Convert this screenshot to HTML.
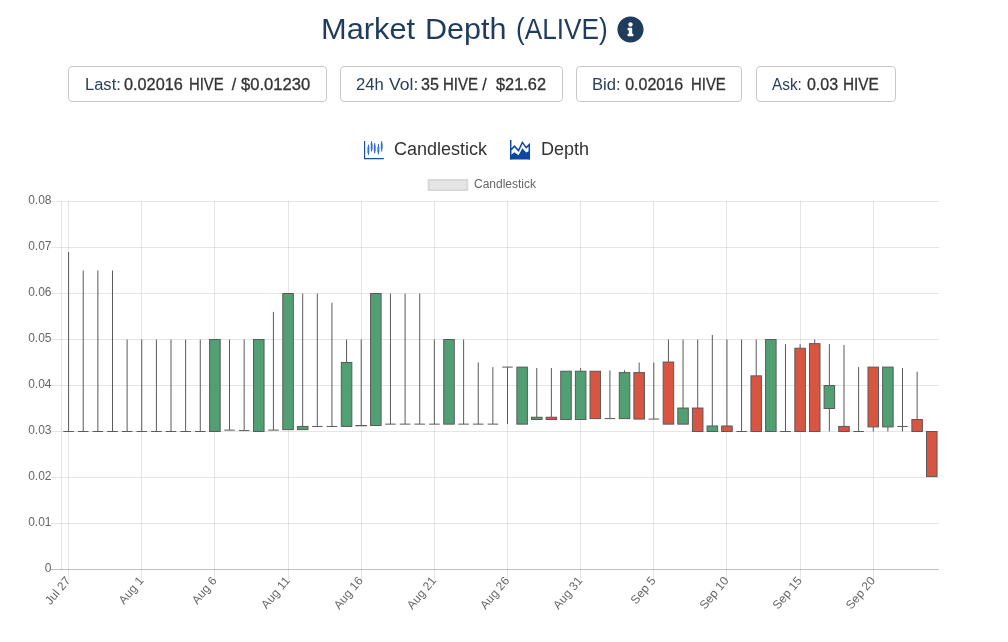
<!DOCTYPE html>
<html><head><meta charset="utf-8"><title>Market Depth</title>
<style>
html,body{margin:0;padding:0;background:#fff;}
body{width:1008px;height:642px;overflow:hidden;position:relative;font-family:"Liberation Sans",sans-serif;}
.chart{position:absolute;left:0;top:0;will-change:transform;}
.title{position:absolute;top:12px;font-size:30px;color:#1f3d5b;white-space:nowrap;line-height:34px;transform-origin:0 0;}
.info{position:absolute;left:616.8px;top:16.2px;width:27px;height:27px;}
.box{position:absolute;top:66px;height:34px;border:1px solid #c8c8c8;border-radius:4px;box-sizing:content-box;font-size:16px;line-height:34px;white-space:nowrap;color:#333;}
.w{position:absolute;top:68px;transform-origin:0 0;font-size:16px;line-height:34px;white-space:nowrap;}
.lbl{color:#293f58;}
.val{color:#333;-webkit-text-stroke:0.3px #333;}
.tab{position:absolute;top:137px;font-size:18px;color:#333;white-space:nowrap;line-height:24px;}
</style></head>
<body>
<svg class="chart" width="1008" height="642" viewBox="0 0 1008 642"><g stroke="rgba(0,0,0,0.1)" stroke-width="1" fill="none"><line x1="51" x2="939" y1="523.5" y2="523.5"/><line x1="51" x2="939" y1="477.5" y2="477.5"/><line x1="51" x2="939" y1="431.5" y2="431.5"/><line x1="51" x2="939" y1="385.5" y2="385.5"/><line x1="51" x2="939" y1="339.5" y2="339.5"/><line x1="51" x2="939" y1="293.5" y2="293.5"/><line x1="51" x2="939" y1="247.5" y2="247.5"/><line x1="51" x2="939" y1="201.5" y2="201.5"/><line x1="61.5" x2="61.5" y1="201" y2="570"/><line x1="68.5" x2="68.5" y1="201" y2="580"/><line x1="141.5" x2="141.5" y1="201" y2="580"/><line x1="214.5" x2="214.5" y1="201" y2="580"/><line x1="288.5" x2="288.5" y1="201" y2="580"/><line x1="361.5" x2="361.5" y1="201" y2="580"/><line x1="434.5" x2="434.5" y1="201" y2="580"/><line x1="507.5" x2="507.5" y1="201" y2="580"/><line x1="580.5" x2="580.5" y1="201" y2="580"/><line x1="653.5" x2="653.5" y1="201" y2="580"/><line x1="726.5" x2="726.5" y1="201" y2="580"/><line x1="800.5" x2="800.5" y1="201" y2="580"/><line x1="873.5" x2="873.5" y1="201" y2="580"/></g><line x1="51" x2="939" y1="569.5" y2="569.5" stroke="rgba(0,0,0,0.25)" stroke-width="1"/><g font-family="Liberation Sans, sans-serif" font-size="12" fill="#666"><text x="51.5" y="568.5" text-anchor="end" dominant-baseline="middle">0</text><text x="51.5" y="522.5" text-anchor="end" dominant-baseline="middle">0.01</text><text x="51.5" y="476.5" text-anchor="end" dominant-baseline="middle">0.02</text><text x="51.5" y="430.5" text-anchor="end" dominant-baseline="middle">0.03</text><text x="51.5" y="384.5" text-anchor="end" dominant-baseline="middle">0.04</text><text x="51.5" y="338.5" text-anchor="end" dominant-baseline="middle">0.05</text><text x="51.5" y="292.5" text-anchor="end" dominant-baseline="middle">0.06</text><text x="51.5" y="246.5" text-anchor="end" dominant-baseline="middle">0.07</text><text x="51.5" y="200.5" text-anchor="end" dominant-baseline="middle">0.08</text></g><g font-family="Liberation Sans, sans-serif" font-size="12" fill="#666"><text transform="translate(68.60,578.9) rotate(-50)" text-anchor="end" dominant-baseline="middle">Jul 27</text><text transform="translate(141.75,578.9) rotate(-50)" text-anchor="end" dominant-baseline="middle">Aug 1</text><text transform="translate(214.90,578.9) rotate(-50)" text-anchor="end" dominant-baseline="middle">Aug 6</text><text transform="translate(288.05,578.9) rotate(-50)" text-anchor="end" dominant-baseline="middle">Aug 11</text><text transform="translate(361.20,578.9) rotate(-50)" text-anchor="end" dominant-baseline="middle">Aug 16</text><text transform="translate(434.35,578.9) rotate(-50)" text-anchor="end" dominant-baseline="middle">Aug 21</text><text transform="translate(507.50,578.9) rotate(-50)" text-anchor="end" dominant-baseline="middle">Aug 26</text><text transform="translate(580.65,578.9) rotate(-50)" text-anchor="end" dominant-baseline="middle">Aug 31</text><text transform="translate(653.80,578.9) rotate(-50)" text-anchor="end" dominant-baseline="middle">Sep 5</text><text transform="translate(726.95,578.9) rotate(-50)" text-anchor="end" dominant-baseline="middle">Sep 10</text><text transform="translate(800.10,578.9) rotate(-50)" text-anchor="end" dominant-baseline="middle">Sep 15</text><text transform="translate(873.25,578.9) rotate(-50)" text-anchor="end" dominant-baseline="middle">Sep 20</text></g><g stroke-width="1"><path d="M68.60 252.10V431.50" stroke="rgb(90,90,90)" fill="none"/><path d="M63.33 431.50H73.86" stroke="rgb(90,90,90)" fill="none"/><path d="M83.23 270.50V431.50" stroke="rgb(90,90,90)" fill="none"/><path d="M77.96 431.50H88.49" stroke="rgb(90,90,90)" fill="none"/><path d="M97.86 270.50V431.50" stroke="rgb(90,90,90)" fill="none"/><path d="M92.59 431.50H103.12" stroke="rgb(90,90,90)" fill="none"/><path d="M112.49 270.50V431.50" stroke="rgb(90,90,90)" fill="none"/><path d="M107.22 431.50H117.75" stroke="rgb(90,90,90)" fill="none"/><path d="M127.12 339.50V431.50" stroke="rgb(90,90,90)" fill="none"/><path d="M121.86 431.50H132.38" stroke="rgb(90,90,90)" fill="none"/><path d="M141.75 339.50V431.50" stroke="rgb(90,90,90)" fill="none"/><path d="M136.49 431.50H147.01" stroke="rgb(90,90,90)" fill="none"/><path d="M156.38 339.50V431.50" stroke="rgb(90,90,90)" fill="none"/><path d="M151.12 431.50H161.64" stroke="rgb(90,90,90)" fill="none"/><path d="M171.01 339.50V431.50" stroke="rgb(90,90,90)" fill="none"/><path d="M165.75 431.50H176.27" stroke="rgb(90,90,90)" fill="none"/><path d="M185.64 339.50V431.50" stroke="rgb(90,90,90)" fill="none"/><path d="M180.38 431.50H190.90" stroke="rgb(90,90,90)" fill="none"/><path d="M200.27 339.50V431.50" stroke="rgb(90,90,90)" fill="none"/><path d="M195.01 431.50H205.53" stroke="rgb(90,90,90)" fill="none"/><rect x="209.64" y="339.50" width="10.53" height="92.00" fill="rgb(80,160,115)" stroke="rgb(90,90,90)"/><path d="M229.53 339.50V430.12" stroke="rgb(90,90,90)" fill="none"/><path d="M224.27 430.12H234.79" stroke="rgb(90,90,90)" fill="none"/><path d="M244.16 339.50V430.58" stroke="rgb(90,90,90)" fill="none"/><path d="M238.90 430.58H249.42" stroke="rgb(90,90,90)" fill="none"/><rect x="253.52" y="339.50" width="10.53" height="92.00" fill="rgb(80,160,115)" stroke="rgb(90,90,90)"/><path d="M273.42 311.90V430.12" stroke="rgb(90,90,90)" fill="none"/><path d="M268.16 430.12H278.69" stroke="rgb(90,90,90)" fill="none"/><rect x="282.79" y="293.50" width="10.53" height="136.16" fill="rgb(80,160,115)" stroke="rgb(90,90,90)"/><path d="M302.68 293.50V426.44" stroke="rgb(90,90,90)" fill="none"/><rect x="297.42" y="426.44" width="10.53" height="3.22" fill="rgb(80,160,115)" stroke="rgb(90,90,90)"/><path d="M317.31 293.50V426.44" stroke="rgb(90,90,90)" fill="none"/><path d="M312.05 426.44H322.57" stroke="rgb(90,90,90)" fill="none"/><path d="M331.94 302.70V426.44" stroke="rgb(90,90,90)" fill="none"/><path d="M326.68 426.44H337.21" stroke="rgb(90,90,90)" fill="none"/><path d="M346.57 339.50V362.50" stroke="rgb(90,90,90)" fill="none"/><rect x="341.31" y="362.50" width="10.53" height="63.94" fill="rgb(80,160,115)" stroke="rgb(90,90,90)"/><path d="M361.20 339.50V425.52" stroke="rgb(90,90,90)" fill="none"/><rect x="355.94" y="425.52" width="10.53" height="0.23" fill="rgb(80,160,115)" stroke="rgb(90,90,90)"/><rect x="370.57" y="293.50" width="10.53" height="132.02" fill="rgb(80,160,115)" stroke="rgb(90,90,90)"/><path d="M390.46 293.50V424.14" stroke="rgb(90,90,90)" fill="none"/><path d="M385.20 424.14H395.73" stroke="rgb(90,90,90)" fill="none"/><path d="M405.09 293.50V424.14" stroke="rgb(90,90,90)" fill="none"/><path d="M399.83 424.14H410.36" stroke="rgb(90,90,90)" fill="none"/><path d="M419.72 293.50V424.14" stroke="rgb(90,90,90)" fill="none"/><path d="M414.46 424.14H424.99" stroke="rgb(90,90,90)" fill="none"/><path d="M434.35 339.50V424.14" stroke="rgb(90,90,90)" fill="none"/><path d="M429.09 424.14H439.62" stroke="rgb(90,90,90)" fill="none"/><rect x="443.72" y="339.50" width="10.53" height="84.64" fill="rgb(80,160,115)" stroke="rgb(90,90,90)"/><path d="M463.61 339.50V424.14" stroke="rgb(90,90,90)" fill="none"/><path d="M458.35 424.14H468.88" stroke="rgb(90,90,90)" fill="none"/><path d="M478.24 362.50V424.14" stroke="rgb(90,90,90)" fill="none"/><path d="M472.98 424.14H483.50" stroke="rgb(90,90,90)" fill="none"/><path d="M492.87 367.10V424.14" stroke="rgb(90,90,90)" fill="none"/><path d="M487.61 424.14H498.13" stroke="rgb(90,90,90)" fill="none"/><path d="M507.50 424.14V367.10" stroke="rgb(90,90,90)" fill="none"/><path d="M502.24 367.10H512.76" stroke="rgb(90,90,90)" fill="none"/><rect x="516.87" y="367.10" width="10.53" height="57.04" fill="rgb(80,160,115)" stroke="rgb(90,90,90)"/><path d="M536.76 368.02V417.24" stroke="rgb(90,90,90)" fill="none"/><rect x="531.50" y="417.24" width="10.53" height="2.30" fill="rgb(80,160,115)" stroke="rgb(90,90,90)"/><path d="M551.39 368.02V417.24" stroke="rgb(90,90,90)" fill="none"/><rect x="546.12" y="417.24" width="10.53" height="2.30" fill="rgb(215,85,65)" stroke="rgb(90,90,90)"/><rect x="560.75" y="371.24" width="10.53" height="48.30" fill="rgb(80,160,115)" stroke="rgb(90,90,90)"/><path d="M580.65 368.02V371.24" stroke="rgb(90,90,90)" fill="none"/><rect x="575.39" y="371.24" width="10.53" height="48.30" fill="rgb(80,160,115)" stroke="rgb(90,90,90)"/><rect x="590.02" y="371.24" width="10.53" height="47.38" fill="rgb(215,85,65)" stroke="rgb(90,90,90)"/><path d="M609.91 370.32V418.62" stroke="rgb(90,90,90)" fill="none"/><path d="M604.65 418.62H615.18" stroke="rgb(90,90,90)" fill="none"/><path d="M624.54 370.32V372.62" stroke="rgb(90,90,90)" fill="none"/><rect x="619.28" y="372.62" width="10.53" height="46.00" fill="rgb(80,160,115)" stroke="rgb(90,90,90)"/><path d="M639.17 362.50V372.62" stroke="rgb(90,90,90)" fill="none"/><rect x="633.91" y="372.62" width="10.53" height="46.46" fill="rgb(215,85,65)" stroke="rgb(90,90,90)"/><path d="M653.80 362.50V419.08" stroke="rgb(90,90,90)" fill="none"/><path d="M648.54 419.08H659.07" stroke="rgb(90,90,90)" fill="none"/><path d="M668.43 339.50V362.04" stroke="rgb(90,90,90)" fill="none"/><rect x="663.17" y="362.04" width="10.53" height="62.10" fill="rgb(215,85,65)" stroke="rgb(90,90,90)"/><path d="M683.06 339.50V408.04" stroke="rgb(90,90,90)" fill="none"/><rect x="677.80" y="408.04" width="10.53" height="16.10" fill="rgb(80,160,115)" stroke="rgb(90,90,90)"/><path d="M697.69 339.50V408.04" stroke="rgb(90,90,90)" fill="none"/><rect x="692.43" y="408.04" width="10.53" height="23.46" fill="rgb(215,85,65)" stroke="rgb(90,90,90)"/><path d="M712.32 334.90V425.98" stroke="rgb(90,90,90)" fill="none"/><rect x="707.06" y="425.98" width="10.53" height="5.52" fill="rgb(80,160,115)" stroke="rgb(90,90,90)"/><path d="M726.95 339.50V425.98" stroke="rgb(90,90,90)" fill="none"/><rect x="721.69" y="425.98" width="10.53" height="5.52" fill="rgb(215,85,65)" stroke="rgb(90,90,90)"/><path d="M741.58 339.50V431.50" stroke="rgb(90,90,90)" fill="none"/><path d="M736.32 431.50H746.85" stroke="rgb(90,90,90)" fill="none"/><path d="M756.21 339.50V375.84" stroke="rgb(90,90,90)" fill="none"/><rect x="750.95" y="375.84" width="10.53" height="55.66" fill="rgb(215,85,65)" stroke="rgb(90,90,90)"/><rect x="765.58" y="339.50" width="10.53" height="92.00" fill="rgb(80,160,115)" stroke="rgb(90,90,90)"/><path d="M785.47 344.10V431.50" stroke="rgb(90,90,90)" fill="none"/><path d="M780.21 431.50H790.74" stroke="rgb(90,90,90)" fill="none"/><path d="M800.10 344.10V348.24" stroke="rgb(90,90,90)" fill="none"/><rect x="794.84" y="348.24" width="10.53" height="83.26" fill="rgb(215,85,65)" stroke="rgb(90,90,90)"/><path d="M814.73 339.50V343.64" stroke="rgb(90,90,90)" fill="none"/><rect x="809.47" y="343.64" width="10.53" height="87.86" fill="rgb(215,85,65)" stroke="rgb(90,90,90)"/><path d="M829.36 344.10V385.50M829.36 431.50V408.50" stroke="rgb(90,90,90)" fill="none"/><rect x="824.10" y="385.50" width="10.53" height="23.00" fill="rgb(80,160,115)" stroke="rgb(90,90,90)"/><path d="M843.99 345.02V426.44" stroke="rgb(90,90,90)" fill="none"/><rect x="838.73" y="426.44" width="10.53" height="5.06" fill="rgb(215,85,65)" stroke="rgb(90,90,90)"/><path d="M858.62 367.10V431.50" stroke="rgb(90,90,90)" fill="none"/><path d="M853.36 431.50H863.89" stroke="rgb(90,90,90)" fill="none"/><path d="M873.25 431.50V426.90" stroke="rgb(90,90,90)" fill="none"/><rect x="867.99" y="367.10" width="10.53" height="59.80" fill="rgb(215,85,65)" stroke="rgb(90,90,90)"/><path d="M887.88 431.50V426.90" stroke="rgb(90,90,90)" fill="none"/><rect x="882.62" y="367.10" width="10.53" height="59.80" fill="rgb(80,160,115)" stroke="rgb(90,90,90)"/><path d="M902.51 368.02V426.44M902.51 431.50V426.44" stroke="rgb(90,90,90)" fill="none"/><path d="M897.25 426.44H907.78" stroke="rgb(90,90,90)" fill="none"/><path d="M917.14 371.70V419.54" stroke="rgb(90,90,90)" fill="none"/><rect x="911.88" y="419.54" width="10.53" height="11.96" fill="rgb(215,85,65)" stroke="rgb(90,90,90)"/><path d="M931.77 431.04V431.50" stroke="rgb(90,90,90)" fill="none"/><rect x="926.51" y="431.50" width="10.53" height="45.08" fill="rgb(215,85,65)" stroke="rgb(90,90,90)"/></g><rect x="427.6" y="179" width="40.6" height="12" fill="rgba(0,0,0,0.1)"/><rect x="428.6" y="180" width="38.6" height="10" fill="none" stroke="rgba(0,0,0,0.06)" stroke-width="2"/><text x="474" y="185" font-family="Liberation Sans, sans-serif" font-size="12" fill="#666" dominant-baseline="middle">Candlestick</text></svg>
<span class="title" style="left:320.65px;transform:scaleX(1.0259)">Market</span>
<span class="title" style="left:424.56px;transform:scaleX(1.0184)">Depth</span>
<span class="title" style="left:515.95px;transform:scaleX(0.8738)">(ALIVE)</span>
<svg class="info" viewBox="0 0 512 512"><path fill="#1f3d5b" d="M256 8C119.043 8 8 119.083 8 256c0 136.997 111.043 248 248 248s248-111.003 248-248C504 119.083 392.957 8 256 8zm0 110c23.196 0 42 18.804 42 42s-18.804 42-42 42-42-18.804-42-42 18.804-42 42-42zm56 254c0 6.627-5.373 12-12 12h-88c-6.627 0-12-5.373-12-12v-24c0-6.627 5.373-12 12-12h12v-64h-12c-6.627 0-12-5.373-12-12v-24c0-6.627 5.373-12 12-12h64c6.627 0 12 5.373 12 12v100h12c6.627 0 12 5.373 12 12v24z"/></svg>
<div class="box" style="left:68px;width:257px;"></div>
<div class="box" style="left:340px;width:221px;"></div>
<div class="box" style="left:576px;width:164px;"></div>
<div class="box" style="left:756px;width:138px;"></div>
<span class="w lbl" style="left:84.67px;transform:scaleX(1.0322)">Last:</span>
<span class="w val" style="left:124.10px;transform:scaleX(1.0156)">0.02016</span>
<span class="w val" style="left:189.47px;transform:scaleX(0.9279)">HIVE</span>
<span class="w val" style="left:231.70px;transform:scaleX(1.0000)">/</span>
<span class="w val" style="left:241.10px;transform:scaleX(1.0359)">$0.01230</span>
<span class="w lbl" style="left:356.26px;transform:scaleX(1.0400)">24h</span>
<span class="w lbl" style="left:388.50px;transform:scaleX(1.0962)">Vol:</span>
<span class="w val" style="left:420.80px;transform:scaleX(1.0068)">35</span>
<span class="w val" style="left:442.81px;transform:scaleX(0.9377)">HIVE</span>
<span class="w val" style="left:482.30px;transform:scaleX(1.0000)">/</span>
<span class="w val" style="left:495.80px;transform:scaleX(1.0212)">$21.62</span>
<span class="w lbl" style="left:592.16px;transform:scaleX(1.0365)">Bid:</span>
<span class="w val" style="left:625.20px;transform:scaleX(1.0000)">0.02016</span>
<span class="w val" style="left:691.17px;transform:scaleX(0.9308)">HIVE</span>
<span class="w lbl" style="left:772.10px;transform:scaleX(0.9603)">Ask:</span>
<span class="w val" style="left:806.90px;transform:scaleX(1.0000)">0.03</span>
<span class="w val" style="left:843.24px;transform:scaleX(0.9585)">HIVE</span>
<svg style="position:absolute;left:350px;top:130px" width="40" height="40" viewBox="350 130 40 40">
 <path d="M364.6 140.9V158.6H383.8" stroke="#1c4e94" stroke-width="1.2" fill="none"/>
 <path d="M368.4 144.7V154.9M371.6 141.2V151.5M374.7 143.1V153.4M378.4 144V154.3M381.7 141.2V151.5" stroke="#2358b0" stroke-width="1" fill="none"/>
 <path d="M368.4 146.8V153.1M371.6 143.2V149.4M374.7 145.2V151.2M378.4 146.8V152.2M381.7 143.2V148.8" stroke="#2f6fe0" stroke-width="1.8" fill="none"/>
</svg>
<div class="tab" style="left:394px;">Candlestick</div>
<svg style="position:absolute;left:500px;top:130px" width="40" height="40" viewBox="500 130 40 40">
 <path d="M510.1 159.6V155.7L514.4 152.2L518.5 155.3L522.4 148.3L526.2 152.6L529.9 150.8V159.6Z" fill="#0d47a1"/>
 <path d="M510.7 140.1V159.6M510.7 150.3L514.4 146.2L518.5 150.6L522.4 142.4L526.2 147.6L529.3 144.6V159.6" stroke="#0d47a1" stroke-width="1.5" fill="none"/>
</svg>
<div class="tab" style="left:541px;">Depth</div>
</body></html>
